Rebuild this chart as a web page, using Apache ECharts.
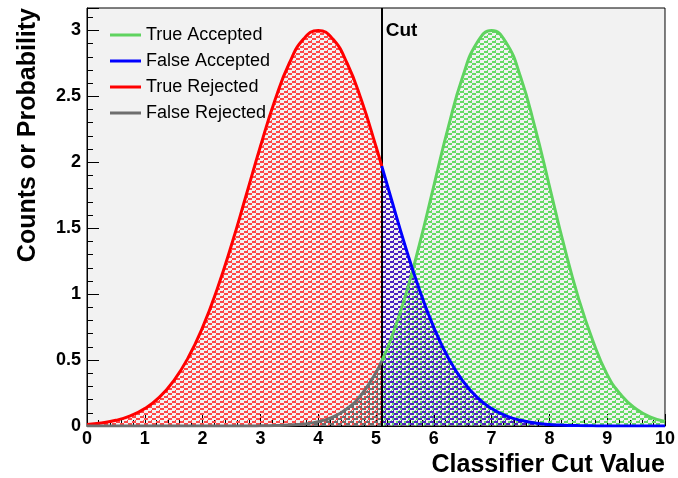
<!DOCTYPE html>
<html>
<head>
<meta charset="utf-8">
<title>Classifier Cut</title>
<script src="https://cdn.jsdelivr.net/npm/echarts@6/dist/echarts.min.js"></script>
<style>
  html, body { margin: 0; padding: 0; background: #fff; }
  #chart { width: 678px; height: 478px; }
</style>
</head>
<body>
<div id="chart"></div>
<script>
// values
var xLeft = [0, 0.25, 0.5, 0.75, 1, 1.25, 1.5, 1.75, 2, 2.25, 2.5, 2.75, 3, 3.25, 3.5, 3.75, 4, 4.25, 4.5, 4.75, 5, 5.1];
var trueRejected = [0.012, 0.023, 0.043, 0.077, 0.132, 0.217, 0.343, 0.517, 0.748, 1.036, 1.373, 1.744, 2.12, 2.468, 2.751, 2.936, 3.0, 2.936, 2.751, 2.468, 2.12, 1.971];
var falseRejected = [0, 0, 0, 0, 0, 0, 0, 0, 0, 0, 0, 0, 0.001, 0.003, 0.007, 0.015, 0.033, 0.068, 0.132, 0.239, 0.406, 0.493];

var xRight = [5.1, 5.25, 5.5, 5.75, 6, 6.25, 6.5, 6.75, 7, 7.25, 7.5, 7.75, 8, 8.25, 8.5, 8.75, 9, 9.25, 9.5, 9.75, 10];
var falseAccepted = [1.971, 1.744, 1.373, 1.036, 0.748, 0.517, 0.343, 0.217, 0.132, 0.077, 0.043, 0.023, 0.012, 0.006, 0.003, 0.001, 0, 0, 0, 0, 0];
var trueAccepted = [0.493, 0.649, 0.974, 1.373, 1.82, 2.264, 2.648, 2.908, 3.0, 2.908, 2.648, 2.264, 1.82, 1.373, 0.974, 0.649, 0.39, 0.23, 0.13, 0.068, 0.035];

var cutValue = 5.1;
var legendNames = ['True Accepted', 'False Accepted', 'True Rejected', 'False Rejected'];

function pairs(xs, ys) {
  var out = [];
  for (var i = 0; i < xs.length; i++) out.push([xs[i], ys[i]]);
  return out;
}

// staircase hatch like the ROOT fill pattern: 8x5 tile, 2px thick steps rising to the right
// shift moves the stairs sideways so overlapping fills don't hide each other
function hatch(color, shift) {
  var c = document.createElement('canvas');
  c.width = 8; c.height = 5;
  var g = c.getContext('2d');
  g.fillStyle = color;
  [[0, 3, 4, 2], [4, 1, 4, 2], [7, 0, 1, 1]].forEach(function (r) {
    for (var k = -1; k <= 1; k++) g.fillRect(r[0] + shift + k * 8, r[1], r[2], r[3]);
  });
  return { image: c, repeat: 'repeat' };
}

var font = 'Liberation Sans, Arial, Helvetica, sans-serif';

function fillOf(name, xs, ys, line, fill, shift, z) {
  return {
    name: name,
    type: 'line',
    data: pairs(xs, ys),
    smooth: true,
    symbol: 'none',
    z: z,
    lineStyle: { width: 0 },
    itemStyle: { color: line },
    areaStyle: { color: hatch(fill, shift), opacity: 1, origin: 'start' }
  };
}

function lineOf(name, xs, ys, line, z) {
  return {
    name: name,
    type: 'line',
    data: pairs(xs, ys),
    smooth: true,
    symbol: 'none',
    z: z,
    lineStyle: { color: line, width: 3 },
    itemStyle: { color: line }
  };
}

var myChart = echarts.init(document.getElementById('chart'));

var series = [
  lineOf('True Accepted', xRight, trueAccepted, '#5fd35f', 10),
  lineOf('False Accepted', xRight, falseAccepted, '#0000ff', 11),
  lineOf('True Rejected', xLeft, trueRejected, '#ff0000', 10),
  lineOf('False Rejected', xLeft, falseRejected, '#6e6e6e', 11),
  fillOf('True Rejected', xLeft, trueRejected, '#ff0000', '#ff4646', 0, 2),
  fillOf('False Rejected', xLeft, falseRejected, '#6e6e6e', '#6a6a6a', 2, 3),
  fillOf('True Accepted', xRight, trueAccepted, '#5fd35f', '#66da66', 0, 3),
  fillOf('False Accepted', xRight, falseAccepted, '#0000ff', '#4a20c0', 2, 4)
];

series[2].markLine = {
  silent: true,
  symbol: 'none',
  label: { show: false },
  lineStyle: { color: '#000', width: 2, type: 'solid' },
  data: [{ xAxis: cutValue }]
};
series[2].markPoint = {
  silent: true,
  symbol: 'circle',
  symbolSize: 0,
  data: [{ coord: [cutValue, 3.0] }],
  label: {
    show: true, position: 'right', distance: 4,
    formatter: 'Cut', color: '#000', fontFamily: font, fontWeight: 'bold', fontSize: 19
  }
};

var option = {
  animation: false,
  backgroundColor: '#ffffff',
  textStyle: { fontFamily: font },
  grid: {
    left: 87, right: 13, top: 8, bottom: 52,
    show: true, backgroundColor: '#f2f2f2', borderColor: '#000', borderWidth: 1
  },
  legend: {
    data: legendNames,
    orient: 'vertical',
    left: 105, top: 21,
    itemWidth: 31, itemHeight: 3, itemGap: 8,
    icon: 'rect',
    textStyle: { fontFamily: font, fontSize: 18, color: '#000' }
  },
  xAxis: {
    type: 'value',
    min: 0, max: 10, interval: 1,
    name: 'Classifier Cut Value',
    nameLocation: 'end',
    nameGap: 0,
    nameTextStyle: {
      fontFamily: font, fontWeight: 'bold', fontSize: 25, color: '#000',
      align: 'right', verticalAlign: 'top', padding: [27, 0, 0, 0]
    },
    axisLine: { show: true, lineStyle: { color: '#000', width: 1 } },
    axisTick: { show: true, inside: true, length: 12, lineStyle: { color: '#000' } },
    minorTick: { show: true, splitNumber: 5, length: 6, lineStyle: { color: '#000' } },
    splitLine: { show: false },
    axisLabel: { color: '#000', fontWeight: 'bold', fontSize: 18, fontFamily: font, margin: 4 }
  },
  yAxis: {
    type: 'value',
    min: 0, max: 3.17, interval: 0.5,
    name: 'Counts or Probability',
    nameLocation: 'end',
    nameRotate: 90,
    nameGap: 0,
    nameTextStyle: {
      fontFamily: font, fontWeight: 'bold', fontSize: 25, color: '#000',
      align: 'right', verticalAlign: 'bottom', padding: [0, 0, 46, 0]
    },
    axisLine: { show: true, lineStyle: { color: '#000', width: 1 } },
    axisTick: { show: true, inside: true, length: 12, lineStyle: { color: '#000' } },
    minorTick: { show: true, splitNumber: 5, length: 6, lineStyle: { color: '#000' } },
    splitLine: { show: false },
    axisLabel: {
      color: '#000', fontWeight: 'bold', fontSize: 18, fontFamily: font, margin: 6,
      showMaxLabel: false,
      formatter: function (v) {
        return Math.abs(v * 2 - Math.round(v * 2)) < 1e-6 ? String(v) : '';
      }
    }
  },
  series: series
};

myChart.setOption(option);
</script>
</body>
</html>
